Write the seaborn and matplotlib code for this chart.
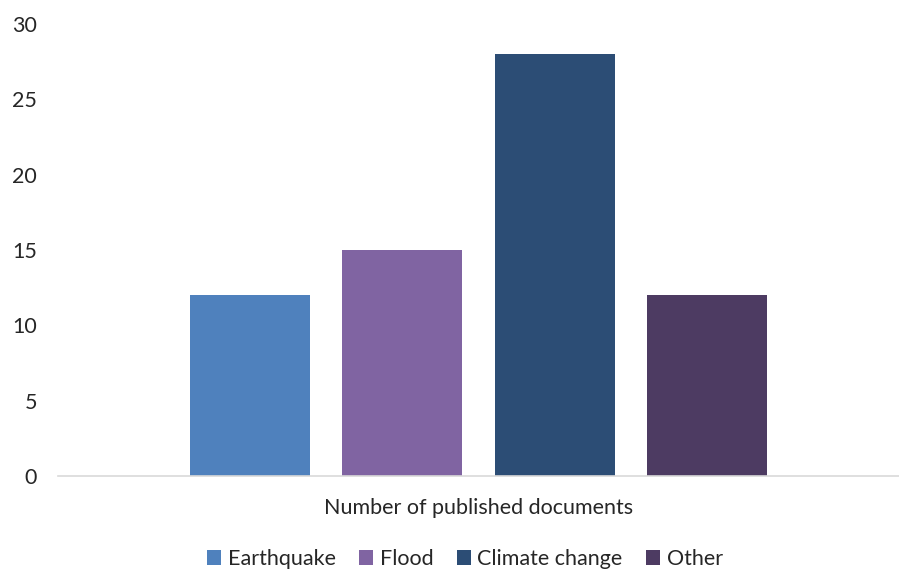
import matplotlib
matplotlib.use("Agg")
import matplotlib.pyplot as plt
import seaborn as sns
import pandas as pd

categories = ["Earthquake", "Flood", "Climate change", "Other"]
counts = [12, 15, 28, 12]
group_label = "Number of published documents"
colors = ["#4F81BD", "#8064A2", "#2C4D75", "#4D3B62"]
y_ticks = [0, 5, 10, 15, 20, 25, 30]

df = pd.DataFrame({
    "group": [group_label] * len(categories),
    "topic": categories,
    "count": counts,
})

sns.set_theme(style="white")
plt.rcParams["font.family"] = ["Lato", "DejaVu Sans"]

fig = plt.figure(figsize=(8.99, 5.70), dpi=100)
ax = fig.add_axes([58 / 899, (570 - 476) / 570, 1 - 58 / 899, (476 - 24) / 570])

sns.barplot(data=df, x="group", y="count", hue="topic", hue_order=categories,
            palette=colors, width=0.725, gap=0.213, saturation=1,
            edgecolor="none", legend=True, ax=ax)

ax.set_xlim(-0.5, 0.5)
ax.set_ylim(0, 30)
ax.set_yticks(y_ticks)
ax.set_yticklabels([str(t) for t in y_ticks], fontsize=15.5, color="#262626")
ax.tick_params(axis="y", length=0, pad=15)
ax.tick_params(axis="x", length=0)
ax.set_xticks([])
ax.set_xlabel("")
ax.set_ylabel("")
for side in ["top", "right", "left"]:
    ax.spines[side].set_visible(False)
ax.spines["bottom"].set_color("#D9D9D9")
ax.spines["bottom"].set_linewidth(1.2)

fig.text(479 / 899, 1 - 508 / 570, group_label, ha="center", va="center",
         fontsize=15.5, color="#262626")

handles, labels = ax.get_legend_handles_labels()
ax.legend_.remove()
fig.legend(handles, labels, loc="center", bbox_to_anchor=(465 / 899, 1 - 559 / 570),
           ncol=4, frameon=False, fontsize=15.5, handlelength=0.65, handleheight=0.65,
           handletextpad=0.3, columnspacing=1.1, labelcolor="#262626")

fig.savefig("out.png", dpi=100)
